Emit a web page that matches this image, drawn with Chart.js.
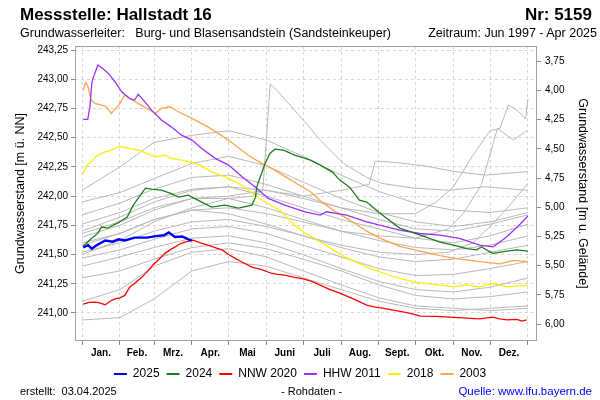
<!DOCTYPE html>
<html>
<head>
<meta charset="utf-8">
<script src="https://cdn.jsdelivr.net/npm/chart.js@4/dist/chart.umd.min.js"></script>
<style>
  html, body { margin: 0; padding: 0; background: #fff; }
  #wrap { position: relative; width: 600px; height: 400px; overflow: hidden; font-family: "Liberation Sans", Arial, sans-serif; color: #000; }
  #c { position: absolute; left: 0; top: 0; }
  .t { position: absolute; line-height: 1; white-space: pre; }
</style>
</head>
<body>
<div id="wrap">
  <canvas id="c" width="600" height="400"></canvas>
  <div class="t" style="left:20px; top:6px; font-size:17px; font-weight:bold;">Messstelle: Hallstadt 16</div>
  <div class="t" style="right:8px; top:6px; font-size:17px; font-weight:bold;">Nr: 5159</div>
  <div class="t" style="left:20px; top:27px; font-size:12.5px;">Grundwasserleiter:   Burg- und Blasensandstein (Sandsteinkeuper)</div>
  <div class="t" style="right:3px; top:27px; font-size:12.5px;">Zeitraum: Jun 1997 - Apr 2025</div>
  <div class="t" style="left:20px; top:386px; font-size:11px;">erstellt:  03.04.2025</div>
  <div class="t" style="left:281px; top:386px; font-size:11px;">- Rohdaten -</div>
  <div class="t" style="right:8px; top:386px; font-size:11.5px; color:#0000ff;">Quelle: www.lfu.bayern.de</div>
</div>
<script>
// ---- axis / tick data ----
const monthNames = ['Jan.', 'Feb.', 'Mrz.', 'Apr.', 'Mai', 'Juni', 'Juli', 'Aug.', 'Sept.', 'Okt.', 'Nov.', 'Dez.'];
const monthStarts = [0, 31, 59, 90, 120, 151, 181, 212, 243, 273, 304, 334, 365];
const leftTicks = [241.00, 241.25, 241.50, 241.75, 242.00, 242.25, 242.50, 242.75, 243.00, 243.25];
const rightTicks = [3.75, 4.00, 4.25, 4.50, 4.75, 5.00, 5.25, 5.50, 5.75, 6.00];
const groundLevel = 246.905;

// ---- highlighted series (day of year, level m ü. NN) ----
const days2025 = [1, 5, 8, 12, 19, 25, 30, 35, 43, 53, 62, 67, 71, 76, 82, 87, 90];
const val2025 = [241.56, 241.58, 241.55, 241.58, 241.62, 241.61, 241.63, 241.62, 241.645, 241.645, 241.66, 241.665, 241.69, 241.65, 241.655, 241.63, 241.62];

const days2024 = [1, 6, 13, 16, 21, 29, 37, 42, 46, 52, 57, 65, 72, 79, 87, 98, 106, 117, 128, 139, 142, 143, 150, 154, 158, 165, 174, 182, 187, 195, 205, 211, 219, 227, 233, 244, 260, 277, 293, 304, 315, 323, 327, 336, 348, 356, 365];
const val2024 = [241.572, 241.623, 241.683, 241.735, 241.726, 241.769, 241.82, 241.923, 241.983, 242.068, 242.06, 242.051, 242.026, 241.991, 242.008, 241.949, 241.906, 241.923, 241.897, 241.923, 241.991, 242.077, 242.283, 242.368, 242.402, 242.394, 242.351, 242.325, 242.308, 242.265, 242.206, 242.137, 242.077, 241.966, 241.949, 241.854, 241.726, 241.666, 241.606, 241.58, 241.55, 241.54, 241.565, 241.51, 241.53, 241.54, 241.53];

const daysNNW2020 = [1, 6, 11, 15, 19, 23, 27, 31, 35, 39, 44, 49, 54, 58, 63, 68, 72, 76, 80, 84, 88, 91, 97, 103, 109, 115, 120, 125, 132, 139, 147, 155, 160, 166, 174, 182, 188, 195, 203, 211, 222, 233, 240, 246, 257, 268, 277, 289, 301, 308, 315, 325, 336, 342, 348, 356, 360, 364];
const valNNW2020 = [241.075, 241.09, 241.093, 241.085, 241.07, 241.10, 241.12, 241.13, 241.15, 241.22, 241.26, 241.307, 241.36, 241.41, 241.46, 241.51, 241.54, 241.563, 241.59, 241.606, 241.615, 241.623, 241.60, 241.58, 241.56, 241.538, 241.50, 241.469, 241.43, 241.392, 241.37, 241.34, 241.33, 241.324, 241.305, 241.29, 241.27, 241.238, 241.20, 241.17, 241.12, 241.067, 241.05, 241.041, 241.02, 240.998, 240.973, 240.97, 240.964, 240.96, 240.955, 240.95, 240.964, 240.95, 240.94, 240.945, 240.93, 240.94];

const daysHHW2011 = [1, 4.7, 6.5, 8, 9, 13, 17, 21.5, 27, 32.5, 39, 43, 46, 51.5, 57, 65, 73, 81.5, 90, 98, 109, 120, 131, 141.5, 152.5, 166, 182.5, 195, 200, 216.5, 233, 260, 276.5, 293, 309, 325.5, 336.5, 347.5, 358.5, 365];
const valHHW2011 = [242.657, 242.657, 242.765, 242.965, 243.008, 243.122, 243.093, 243.051, 242.979, 242.893, 242.836, 242.822, 242.871, 242.807, 242.736, 242.651, 242.593, 242.522, 242.48, 242.408, 242.323, 242.266, 242.165, 242.08, 241.98, 241.923, 241.866, 241.837, 241.866, 241.837, 241.78, 241.709, 241.68, 241.666, 241.638, 241.58, 241.566, 241.65, 241.76, 241.83];

const days2018 = [1, 4, 9, 13, 19, 24, 31, 38, 46, 53, 60, 68, 73, 81.5, 88, 96.5, 106, 117, 128, 135, 141, 148, 155, 163, 174, 182, 190, 201, 215, 236, 255, 271, 293, 304, 315, 325.5, 336.5, 347.5, 365];
const val2018 = [242.194, 242.265, 242.308, 242.351, 242.379, 242.394, 242.428, 242.408, 242.394, 242.366, 242.337, 242.351, 242.323, 242.308, 242.294, 242.265, 242.208, 242.165, 242.109, 242.066, 242.01, 241.96, 241.92, 241.87, 241.75, 241.69, 241.64, 241.57, 241.48, 241.38, 241.31, 241.266, 241.238, 241.223, 241.24, 241.223, 241.252, 241.223, 241.238];

const days2003 = [1, 3, 5, 7.4, 10.6, 16, 20, 24, 30, 35, 39, 46, 53, 60, 65, 72, 79, 90, 103, 114, 125, 136, 147, 158, 169, 180, 187, 195, 205.6, 219, 233, 244, 260, 276.5, 293, 309, 325.5, 342, 353, 365];
const val2003 = [242.908, 242.973, 242.936, 242.822, 242.794, 242.779, 242.765, 242.708, 242.779, 242.865, 242.836, 242.794, 242.751, 242.708, 242.751, 242.765, 242.722, 242.665, 242.593, 242.522, 242.44, 242.35, 242.28, 242.22, 242.15, 242.08, 242.037, 241.96, 241.88, 241.795, 241.70, 241.64, 241.57, 241.53, 241.49, 241.46, 241.44, 241.42, 241.45, 241.44];

// ---- other years (grey background lines), sampled at month starts ----
const grey01 = [240.94, 240.96, 241.12, 241.36, 241.44, 241.40, 241.30, 241.20, 241.10, 241.04, 241.02, 241.04, 241.06];
const grey02 = [241.10, 241.20, 241.40, 241.52, 241.55, 241.48, 241.36, 241.24, 241.13, 241.06, 241.04, 241.02, 241.04];
const grey03 = [241.30, 241.36, 241.46, 241.56, 241.60, 241.55, 241.46, 241.36, 241.24, 241.15, 241.12, 241.14, 241.18];
const grey04 = [241.40, 241.48, 241.56, 241.64, 241.66, 241.60, 241.50, 241.38, 241.27, 241.20, 241.18, 241.22, 241.30];
const grey05 = [241.47, 241.54, 241.63, 241.72, 241.74, 241.68, 241.58, 241.48, 241.38, 241.32, 241.33, 241.38, 241.44];
const grey06 = [241.58, 241.68, 241.80, 241.88, 241.85, 241.76, 241.66, 241.56, 241.48, 241.44, 241.46, 241.52, 241.58];
const grey07 = [241.68, 241.78, 241.90, 241.98, 241.98, 241.90, 241.80, 241.70, 241.62, 241.56, 241.54, 241.58, 241.66];
const grey08 = [241.76, 241.86, 241.98, 242.06, 242.08, 242.00, 241.90, 241.80, 241.72, 241.64, 241.60, 241.66, 241.76];
const grey09 = [241.84, 241.94, 242.06, 242.16, 242.18, 242.10, 242.00, 241.90, 241.80, 241.72, 241.70, 241.76, 241.84];
const grey10 = [241.95, 242.03, 242.15, 242.28, 242.34, 242.26, 242.12, 241.98, 241.86, 241.78, 241.74, 241.78, 241.86];
const grey11 = [242.05, 242.25, 242.46, 242.52, 242.56, 242.48, 242.34, 242.18, 242.04, 241.94, 241.88, 241.86, 241.90];

const daysGreyA = [0, 31, 59, 90, 120, 151, 181, 212, 235, 240, 255, 280, 305, 330, 365];
const greyA = [241.65, 241.75, 241.88, 241.98, 242.00, 242.05, 242.00, 242.05, 242.10, 242.30, 242.29, 242.26, 242.21, 242.18, 242.21];
const daysGreyB = [0, 31, 59, 90, 120, 140, 148, 154, 160, 182, 195, 214, 233, 245, 270, 300, 330, 365];
const greyB = [241.50, 241.62, 241.78, 241.90, 241.98, 242.00, 242.05, 242.96, 242.90, 242.64, 242.48, 242.28, 242.16, 242.11, 242.07, 242.05, 242.08, 242.05];
const daysGreyC = [0, 31, 59, 90, 120, 151, 181, 212, 243, 273, 290, 304, 320, 334, 342, 349, 354, 360, 363, 365];
const greyC = [241.70, 241.82, 241.95, 242.05, 242.08, 242.05, 241.98, 241.90, 241.85, 241.85, 241.95, 242.08, 242.35, 242.56, 242.58, 242.78, 242.75, 242.70, 242.66, 242.83];
const daysGreyD = [0, 31, 59, 90, 120, 151, 181, 212, 243, 273, 300, 312, 327, 340, 353, 364];
const greyD = [241.60, 241.68, 241.80, 241.88, 241.90, 241.85, 241.78, 241.70, 241.66, 241.64, 241.72, 241.85, 242.10, 242.58, 242.48, 242.56];
const daysGreyE = [0, 31, 59, 90, 120, 151, 181, 212, 243, 273, 300, 320, 335, 350, 365];
const greyE = [241.52, 241.60, 241.70, 241.78, 241.80, 241.74, 241.66, 241.58, 241.52, 241.50, 241.52, 241.60, 241.75, 241.92, 242.11];

// ---- build datasets ----
const toPts = (d, v) => d.map((x, i) => ({ x: x, y: v[i] }));
const FONT = '"Liberation Sans", Arial, sans-serif';
const main = [
  { label: '2025', d: days2025, v: val2025, c: '#0000ff', w: 2.4 },
  { label: '2024', d: days2024, v: val2024, c: '#1e7b1e', w: 1.3 },
  { label: 'NNW 2020', d: daysNNW2020, v: valNNW2020, c: '#ff0000', w: 1.3 },
  { label: 'HHW 2011', d: daysHHW2011, v: valHHW2011, c: '#9b30ff', w: 1.3 },
  { label: '2018', d: days2018, v: val2018, c: '#ffee00', w: 1.3 },
  { label: '2003', d: days2003, v: val2003, c: '#ffa54f', w: 1.3 }
];
const greys = [
  [monthStarts, grey01], [monthStarts, grey02], [monthStarts, grey03], [monthStarts, grey04],
  [monthStarts, grey05], [monthStarts, grey06], [monthStarts, grey07], [monthStarts, grey08],
  [monthStarts, grey09], [monthStarts, grey10], [monthStarts, grey11],
  [daysGreyA, greyA], [daysGreyB, greyB], [daysGreyC, greyC], [daysGreyD, greyD], [daysGreyE, greyE]
];
const datasets = main.map(s => ({
  label: s.label, data: toPts(s.d, s.v), borderColor: s.c, backgroundColor: s.c,
  borderWidth: s.w, pointRadius: 0, tension: 0, yAxisID: 'y'
})).concat(greys.map((g, i) => ({
  label: 'grey' + i, data: toPts(g[0], g[1]), borderColor: '#b8b8b8', backgroundColor: '#b8b8b8',
  borderWidth: 1, pointRadius: 0, tension: 0, yAxisID: 'y'
})));

const monthMids = monthNames.map((m, i) => (monthStarts[i] + monthStarts[i + 1]) / 2);
const fmt = v => v.toFixed(2).replace('.', ',');

const framePlugin = {
  id: 'frame',
  afterDraw(chart) {
    const a = chart.chartArea, ctx = chart.ctx;
    ctx.save();
    ctx.strokeStyle = '#a0a0a0';
    ctx.lineWidth = 1;
    ctx.strokeRect(Math.round(a.left) + 0.5, Math.round(a.top) + 0.5, Math.round(a.right - a.left) - 1, Math.round(a.bottom - a.top) - 1);
    ctx.restore();
  }
};

new Chart(document.getElementById('c'), {
  type: 'line',
  data: { datasets: datasets },
  plugins: [framePlugin],
  options: {
    responsive: false,
    animation: false,
    events: [],
    layout: { padding: { top: 46, bottom: 10, left: 0, right: 0 } },
    plugins: {
      tooltip: { enabled: false },
      legend: {
        position: 'bottom',
        labels: {
          filter: item => item.datasetIndex < 6,
          boxWidth: 13, boxHeight: 2, padding: 7,
          color: '#000', font: { family: FONT, size: 12 },
          generateLabels(chart) {
            const items = Chart.defaults.plugins.legend.labels.generateLabels(chart);
            items.forEach(it => { it.lineWidth = 0; it.fillStyle = it.strokeStyle; });
            return items;
          }
        }
      }
    },
    scales: {
      x: {
        type: 'linear', min: -5.73, max: 372.4,
        afterBuildTicks(s) {
          s.ticks = monthStarts.concat(monthMids).sort((a, b) => a - b).map(v => ({ value: v }));
        },
        afterFit(s) { s.height = 20; },
        ticks: {
          autoSkip: false, maxRotation: 0, minRotation: 0, padding: 2,
          color: '#000', font: { family: FONT, size: 10, weight: 'bold' },
          callback(v) { const i = monthMids.indexOf(v); return i >= 0 ? monthNames[i] : ''; }
        },
        grid: {
          color: ctx => (ctx.tick && monthStarts.includes(ctx.tick.value)) ? '#d6d6d6' : 'rgba(0,0,0,0)',
          tickColor: ctx => (ctx.tick && monthStarts.includes(ctx.tick.value)) ? '#888' : 'rgba(0,0,0,0)',
          tickLength: 4, tickBorderDash: []
        },
        border: { display: false, dash: [3, 3] }
      },
      y: {
        position: 'left', min: 240.76, max: 243.285,
        afterBuildTicks(s) { s.ticks = leftTicks.map(v => ({ value: v })); },
        afterFit(s) { s.width = 75; },
        ticks: { padding: 3, color: '#000', font: { family: FONT, size: 10 }, callback: v => fmt(v) },
        grid: { color: '#d6d6d6', tickColor: '#888', tickLength: 4, tickBorderDash: [] },
        border: { display: false, dash: [3, 3] },
        title: { display: true, text: 'Grundwasserstand [m ü. NN]', color: '#000', font: { family: FONT, size: 12.5 }, padding: { top: 13.5, bottom: 0 } }
      },
      y1: {
        position: 'right', reverse: true,
        min: +(groundLevel - 243.285).toFixed(3), max: +(groundLevel - 240.76).toFixed(3),
        afterBuildTicks(s) { s.ticks = rightTicks.map(v => ({ value: v })); },
        afterFit(s) { s.width = 63; },
        ticks: { padding: 4, color: '#000', font: { family: FONT, size: 10 }, callback: v => fmt(v) },
        grid: { drawOnChartArea: false, tickColor: '#888', tickLength: 4 },
        border: { display: false },
        title: { display: true, text: 'Grundwasserstand [m u. Gelände]', color: '#000', font: { family: FONT, size: 12.5 }, padding: { top: 10.5, bottom: 0 } }
      }
    }
  }
});
</script>
</body>
</html>
